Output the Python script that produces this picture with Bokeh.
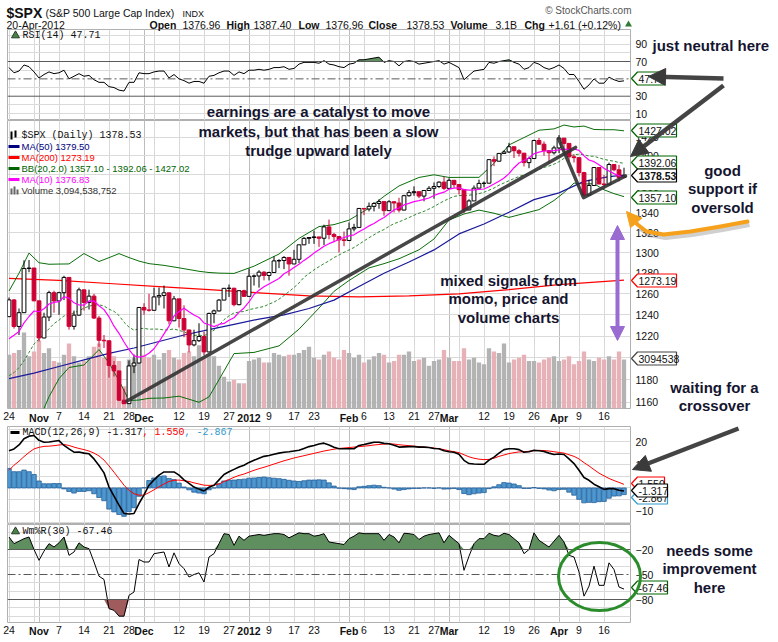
import numpy as np
from bokeh.plotting import figure
from bokeh.models import (Range1d, FixedTicker, Grid, GridBox, Arrow, NormalHead,
                          PrintfTickFormatter, LinearScale, Span)
from bokeh.embed import file_html
from bokeh.resources import INLINE
from bokeh.core.properties import value

# ---------------------------------------------------------------- data
DAYS = list(range(124))  # trading days, 24-Oct-2011 .. 20-Apr-2012
DAY_TICKS = [0, 10, 15, 20, 24, 34, 39, 44, 52, 57, 61, 71, 76, 81, 85, 95, 100, 105, 114, 119]
DAY_LABELS = ["24", "7", "14", "21", "28", "12", "19", "27", "9", "17", "23", "6", "13", "21", "27",
              "12", "19", "26", "9", "16"]
MONTH_TICKS = [6, 27, 48, 68, 88, 110]
MONTH_LABELS = ["Nov", "Dec", "2012", "Feb", "Mar", "Apr"]
WEEK_TICKS = [0, 5, 10, 15, 20, 24, 29, 34, 39, 44, 48, 52, 57, 61, 66, 71, 76, 81, 85, 90, 95,
              100, 105, 110, 114, 119]

OPEN = [1238.25, 1254.19, 1229.05, 1242.00, 1284.59, 1285.09, 1253.30, 1218.28, 1237.90, 1261.15,
        1253.23, 1261.12, 1275.92, 1229.10, 1239.70, 1263.85, 1251.78, 1257.81, 1236.91, 1216.13,
        1215.65, 1192.98, 1188.04, 1161.79, 1158.67, 1192.55, 1195.19, 1246.96, 1244.58, 1244.28,
        1257.08, 1258.47, 1261.01, 1234.35, 1255.19, 1236.47, 1225.73, 1211.82, 1215.75, 1219.66,
        1205.35, 1241.30, 1243.72, 1254.00, 1265.33, 1265.43, 1249.64, 1263.02, 1257.60, 1277.06,
        1277.30, 1281.06, 1277.81, 1280.70, 1292.08, 1292.48, 1295.50, 1289.09, 1293.67, 1308.04,
        1314.50, 1315.38, 1316.00, 1314.65, 1326.06, 1318.43, 1316.33, 1313.01, 1312.41, 1324.09,
        1325.54, 1344.90, 1344.33, 1347.05, 1349.96, 1351.95, 1342.64, 1351.77, 1350.50, 1343.23,
        1358.04, 1361.23, 1362.21, 1357.66, 1363.46, 1365.74, 1367.59, 1372.18, 1365.68, 1374.09,
        1369.63, 1364.33, 1343.36, 1352.63, 1365.91, 1370.87, 1371.09, 1395.95, 1394.28, 1402.60,
        1404.17, 1409.75, 1405.52, 1402.89, 1392.78, 1397.11, 1416.51, 1412.52, 1405.54, 1403.28,
        1408.47, 1419.04, 1413.38, 1398.96, 1398.08, 1382.20, 1358.59, 1368.71, 1387.57, 1370.26,
        1369.57, 1390.78, 1385.14, 1376.96]
HIGH = [1256.5, 1255, 1246, 1292.7, 1293, 1285, 1253, 1242, 1263, 1263,
        1262, 1277.5, 1276, 1244, 1266, 1264, 1264, 1260, 1239, 1221,
        1216, 1197, 1188, 1172, 1197.5, 1203, 1247, 1251, 1260, 1266,
        1266, 1268, 1261, 1258, 1255, 1249, 1226, 1226, 1232, 1224,
        1242, 1245, 1255, 1265.4, 1269, 1265.8, 1263.5, 1264, 1284.6, 1278.7,
        1283, 1282, 1281.5, 1296.5, 1293.8, 1296.8, 1296, 1303, 1308.1, 1315.9,
        1315.4, 1322.3, 1316, 1328.3, 1333.5, 1320, 1316.5, 1321.4, 1330.5, 1329.2,
        1345.3, 1345, 1351, 1351.4, 1354.3, 1352, 1353.4, 1352, 1355.9, 1359,
        1364, 1367.8, 1362.2, 1364, 1368, 1371.9, 1373, 1378, 1376.2, 1374.1,
        1370, 1364.5, 1354.4, 1368.7, 1374.8, 1373, 1396, 1399.4, 1403, 1405.9,
        1414, 1409.8, 1407.2, 1402.9, 1399.2, 1417.3, 1419.2, 1415.5, 1405.5, 1410.9,
        1422.4, 1419, 1413.4, 1401.6, 1398.1, 1383, 1374.7, 1388.1, 1388, 1379.7,
        1392.8, 1390.8, 1390.4, 1387.4]
LOW = [1238, 1227, 1221, 1242, 1281, 1253, 1215, 1218, 1234, 1242,
       1240, 1254, 1226, 1226, 1239, 1244, 1245, 1236, 1210, 1209,
       1182, 1183, 1161, 1158.5, 1158.6, 1186, 1195, 1240, 1243, 1244,
       1249, 1246, 1231, 1234, 1228, 1219, 1205, 1210.5, 1214.5, 1202,
       1205, 1232, 1243, 1254, 1257, 1248, 1249, 1257, 1257.6, 1268,
       1266, 1273, 1273, 1280.7, 1285, 1284, 1277.6, 1289, 1290, 1308,
       1309, 1309, 1306, 1307.7, 1313.6, 1311, 1300.5, 1306.7, 1312.4, 1321.6,
       1325.5, 1338, 1341.9, 1341.9, 1344.6, 1337.4, 1342.6, 1340.8, 1340.8, 1343,
       1357, 1358, 1355.5, 1352.3, 1363, 1354.9, 1365.9, 1363.8, 1365.7, 1366.4,
       1359.3, 1340, 1343, 1352.6, 1365.9, 1366.7, 1371, 1389, 1394.2, 1402.6,
       1403, 1397.7, 1399.2, 1388.7, 1386.9, 1397.1, 1411.9, 1400.1, 1391.6, 1401.4,
       1403, 1406.6, 1394.1, 1392.9, 1378.2, 1357.4, 1358.6, 1368.7, 1369.9, 1365.4,
       1369.5, 1383.6, 1372.9, 1376.96]
CLOSE = [1254.19, 1229.05, 1242.00, 1284.59, 1285.09, 1253.30, 1218.28, 1237.90, 1261.15, 1253.23,
         1261.12, 1275.92, 1229.10, 1239.70, 1263.85, 1251.78, 1257.81, 1236.91, 1216.13, 1215.65,
         1192.98, 1188.04, 1161.79, 1158.67, 1192.55, 1195.19, 1246.96, 1244.58, 1244.28, 1257.08,
         1258.47, 1261.01, 1234.35, 1255.19, 1236.47, 1225.73, 1211.82, 1215.75, 1219.66, 1205.35,
         1241.30, 1243.72, 1254.00, 1265.33, 1265.43, 1249.64, 1263.02, 1257.60, 1277.06, 1277.30,
         1281.06, 1277.81, 1280.70, 1292.08, 1292.48, 1295.50, 1289.09, 1293.67, 1308.04, 1314.50,
         1315.38, 1316.00, 1314.65, 1326.06, 1318.43, 1316.33, 1313.01, 1312.41, 1324.09, 1325.54,
         1344.90, 1344.33, 1347.05, 1349.96, 1351.95, 1342.64, 1351.77, 1350.50, 1343.23, 1358.04,
         1361.23, 1362.21, 1357.66, 1363.46, 1365.74, 1367.59, 1372.18, 1365.68, 1374.09, 1369.63,
         1364.33, 1343.36, 1352.63, 1365.91, 1370.87, 1371.09, 1395.95, 1394.28, 1402.60, 1404.17,
         1409.75, 1405.52, 1402.89, 1392.78, 1397.11, 1416.51, 1412.52, 1405.54, 1403.28, 1408.47,
         1419.04, 1413.38, 1398.96, 1398.08, 1382.20, 1358.59, 1368.71, 1387.57, 1370.26, 1369.57,
         1390.78, 1385.14, 1376.92, 1378.53]
VOLUME_B = [3.4, 3.5, 3.7, 4.8, 3.3, 3.6, 4.3, 3.5, 3.8, 3.0,
            2.9, 3.4, 4.1, 3.3, 2.9, 3.0, 3.3, 3.9, 4.1, 3.2,
            3.6, 3.3, 3.0, 1.4, 3.1, 3.2, 4.3, 3.4, 3.2, 3.4,
            3.1, 3.5, 3.7, 3.2, 3.1, 3.5, 3.6, 3.3, 4.0, 3.2,
            3.4, 3.3, 2.7, 2.0, 1.7, 1.8, 1.6, 1.6, 3.0, 3.1,
            3.2, 2.9, 2.9, 3.5, 3.4, 3.3, 3.4, 3.4, 3.5, 3.7,
            3.9, 3.2, 3.1, 3.4, 3.6, 3.2, 3.1, 3.7, 3.5, 3.2,
            3.4, 2.9, 3.1, 3.3, 3.5, 3.4, 2.9, 3.0, 3.4, 3.4,
            3.6, 3.0, 3.1, 3.2, 2.7, 3.0, 3.1, 3.7, 3.2, 3.0,
            3.0, 3.8, 3.1, 3.2, 2.9, 2.8, 3.8, 3.6, 3.5, 4.1,
            2.9, 3.1, 3.2, 3.4, 3.0, 3.0, 2.9, 3.1, 3.2, 3.3,
            3.0, 3.1, 3.3, 2.8, 3.0, 3.6, 3.1, 3.0, 3.2, 3.1,
            3.3, 3.1, 3.6, 3.09]
MA10 = [1217.5, 1220.8, 1224.3, 1232.4, 1238.4, 1243.6, 1242.9, 1245.7, 1250.3, 1251.8,
        1252.5, 1257.2, 1255.9, 1251.4, 1249.3, 1249.2, 1253.2, 1253.1, 1248.6, 1244.9,
        1238.1, 1229.3, 1222.6, 1214.5, 1207.4, 1201.7, 1200.6, 1201.4, 1204.2, 1208.3,
        1214.8, 1222.1, 1229.3, 1238.9, 1243.2, 1246.3, 1242.8, 1239.9, 1237.5, 1232.3,
        1230.6, 1228.9, 1230.9, 1231.9, 1234.8, 1237.2, 1242.3, 1246.5, 1252.2, 1259.4,
        1263.4, 1266.8, 1269.5, 1272.2, 1274.9, 1279.5, 1282.1, 1285.7, 1288.8, 1292.6,
        1296.0, 1299.8, 1303.2, 1306.6, 1309.2, 1311.2, 1313.6, 1315.4, 1317.0, 1318.1,
        1321.1, 1323.9, 1327.1, 1329.5, 1332.9, 1335.6, 1339.5, 1343.4, 1345.3, 1348.5,
        1350.1, 1351.9, 1353.0, 1354.3, 1355.7, 1358.2, 1360.2, 1361.7, 1364.8, 1366.0,
        1366.3, 1364.4, 1363.9, 1364.2, 1364.7, 1365.0, 1367.4, 1370.2, 1373.1, 1376.5,
        1381.1, 1387.4, 1392.4, 1395.1, 1397.7, 1402.3, 1404.0, 1405.2, 1405.2, 1405.6,
        1406.5, 1407.2, 1406.8, 1407.3, 1405.8, 1400.0, 1395.6, 1393.8, 1390.5, 1386.7,
        1383.9, 1381.1, 1378.9, 1376.8]
BB_MID = [1183.7, 1186.4, 1191.0, 1197.2, 1204.9, 1212.6, 1217.3, 1222.0, 1226.8, 1231.7,
          1235.0, 1239.0, 1240.1, 1241.9, 1243.9, 1246.4, 1248.1, 1249.4, 1249.5, 1248.4,
          1245.3, 1243.3, 1239.3, 1233.0, 1228.4, 1225.5, 1226.9, 1227.3, 1226.4, 1226.6,
          1226.5, 1225.7, 1226.0, 1226.7, 1225.3, 1224.0, 1221.7, 1220.7, 1220.9, 1220.3,
          1222.7, 1225.5, 1230.1, 1235.4, 1239.0, 1241.8, 1242.6, 1243.2, 1244.9, 1245.9,
          1247.0, 1247.9, 1250.2, 1252.1, 1254.9, 1258.4, 1262.2, 1266.1, 1270.5, 1276.0,
          1279.7, 1283.3, 1286.4, 1289.4, 1292.1, 1295.4, 1297.9, 1300.6, 1302.9, 1305.4,
          1308.6, 1311.9, 1315.2, 1318.1, 1321.1, 1323.4, 1326.6, 1329.4, 1331.2, 1333.3,
          1335.6, 1337.9, 1340.1, 1341.9, 1344.3, 1346.9, 1349.9, 1352.6, 1355.1, 1357.3,
          1358.2, 1358.2, 1358.5, 1359.3, 1360.2, 1361.6, 1363.8, 1366.0, 1369.0, 1371.3,
          1373.7, 1375.9, 1378.2, 1379.7, 1381.2, 1383.7, 1385.7, 1387.7, 1389.2, 1391.1,
          1393.8, 1397.3, 1399.6, 1401.2, 1401.8, 1401.2, 1399.8, 1399.5, 1397.9, 1396.2,
          1395.2, 1394.2, 1392.9, 1392.06]
BB_IDX = [0, 2, 4, 6, 8, 10, 12, 15, 18, 20, 22, 24, 26, 28, 31, 34, 38, 40, 42, 45, 49, 54, 58,
          62, 65, 68, 72, 75, 78, 82, 85, 88, 91, 94, 97, 100, 103, 106, 109, 111, 113, 115, 117,
          119, 121, 123]
BB_UPPER = [1262.7, 1280.0, 1299.9, 1290.3, 1288.8, 1289.0, 1289.1, 1299.4, 1291.5, 1295.3,
            1299.3, 1295.4, 1291.9, 1289.4, 1287.7, 1285.3, 1281.9, 1280.7, 1280.1, 1279.8,
            1286.9, 1298.9, 1314.5, 1326.4, 1328.4, 1332.9, 1345.2, 1357.4, 1368.2, 1377.1,
            1379.9, 1377.1, 1377.2, 1377.2, 1392.0, 1411.7, 1419.7, 1427.7, 1429.1, 1433.3,
            1431.2, 1432.2, 1428.5, 1428.2, 1428.2, 1427.02]
BB_LOWER = [1104.7, 1102.0, 1109.9, 1144.3, 1164.8, 1181.0, 1191.1, 1193.4, 1207.5, 1195.3,
            1179.3, 1161.4, 1161.9, 1163.4, 1163.7, 1165.3, 1159.9, 1164.7, 1180.1, 1203.8,
            1204.9, 1210.9, 1226.5, 1246.4, 1262.4, 1272.9, 1285.2, 1289.4, 1294.2, 1303.1,
            1313.9, 1333.1, 1339.2, 1343.2, 1340.0, 1335.7, 1339.7, 1343.7, 1353.1, 1361.3,
            1371.2, 1370.2, 1370.5, 1364.2, 1360.2, 1357.10]
MA50_IDX = [0, 5, 10, 15, 20, 25, 30, 35, 40, 45, 50, 55, 60, 65, 70, 75, 80, 85, 90, 95, 100,
            105, 110, 115, 120, 123]
MA50 = [1181, 1186, 1192, 1198, 1204, 1209, 1215, 1221, 1226, 1231, 1236, 1240, 1246, 1254,
        1267, 1280, 1291, 1303, 1319, 1329, 1341, 1354, 1361, 1373, 1378, 1379.50]
MA200_IDX = [0, 10, 20, 30, 40, 50, 60, 70, 80, 90, 100, 110, 123]
MA200 = [1275, 1273, 1270, 1267, 1264, 1261, 1258, 1257, 1258, 1260, 1264, 1269, 1273.19]

RSI = [63, 57, 59, 66, 64, 58, 51, 55, 58, 56,
       57, 60, 50, 53, 56, 53, 54, 49, 46, 46,
       41, 40, 37, 36, 46, 46, 57, 56, 56, 58,
       59, 59, 51, 55, 50, 48, 45, 47, 47, 45,
       53, 54, 57, 59, 59, 54, 58, 56, 60, 60,
       61, 60, 61, 63, 63, 64, 61, 62, 67, 69,
       69, 69, 68, 71, 67, 66, 64, 63, 67, 68,
       72, 72, 73, 74, 75, 69, 71, 70, 65, 70,
       71, 70, 67, 68, 69, 70, 71, 67, 69, 66,
       63, 49, 54, 59, 60, 61, 69, 68, 70, 71,
       72, 69, 67, 61, 63, 69, 67, 63, 61, 63,
       66, 62, 55, 55, 47, 38, 43, 50, 45, 45,
       52, 49, 47, 47.71]
MACD = [16.0, 16.8, 18.5, 21.2, 22.3, 22.6, 20.5, 19.7, 19.8, 20.1,
        20.4, 18.3, 16.8, 15.4, 15.5, 15.0, 14.7, 12.5, 9.7, 6.5,
        0.4, -3.5, -7.4, -11.0, -11.2, -11.0, -6.7, -3.0, 1.2, 3.5,
        5.5, 6.9, 6.9, 6.9, 5.5, 3.5, 2.0, 0.4, -0.5, -1.3,
        0.3, 1.2, 3.5, 5.8, 7.0, 8.0, 9.0, 9.8, 11.0, 11.9,
        12.8, 13.6, 14.0, 14.5, 15.0, 15.4, 15.6, 15.9, 16.2, 17.0,
        17.8, 18.3, 18.9, 19.3, 18.5, 17.5, 16.9, 16.9, 16.9, 16.9,
        18.3, 18.7, 19.2, 19.7, 19.7, 19.2, 19.0, 18.4, 17.6, 17.7,
        17.8, 17.8, 17.6, 17.6, 17.4, 17.0, 16.9, 16.0, 15.6, 15.4,
        14.5, 11.9, 10.5, 10.3, 10.2, 10.2, 12.0, 13.3, 15.0, 16.5,
        16.9, 16.9, 16.5, 15.4, 15.6, 16.2, 16.0, 15.7, 15.0, 14.4,
        14.6, 14.4, 12.5, 10.5, 7.6, 4.5, 3.3, 1.6, 0.5, -0.6,
        -0.3, -0.3, -1.0, -1.317]
SIGNAL = [7.6, 9.8, 11.5, 13.5, 15.3, 16.8, 17.5, 17.9, 18.0, 18.2,
          18.5, 18.7, 18.3, 17.6, 17.0, 16.5, 15.9, 15.0, 13.8, 12.0,
          9.5, 6.8, 4.0, 1.2, -1.0, -2.5, -3.1, -3.1, -2.0, -0.8,
          0.5, 1.7, 2.8, 3.3, 3.4, 3.1, 2.8, 2.2, 1.7, 1.2,
          1.1, 1.2, 1.7, 2.8, 3.6, 4.6, 5.4, 6.0, 6.8, 7.6,
          8.3, 8.9, 9.6, 10.3, 11.0, 11.7, 12.3, 12.9, 13.4, 13.9,
          14.4, 14.9, 15.4, 15.9, 16.3, 16.7, 17.0, 17.2, 17.4, 17.6,
          17.8, 18.0, 18.2, 18.5, 18.7, 18.9, 19.0, 18.9, 18.6, 18.4,
          18.2, 18.0, 17.8, 17.6, 17.4, 17.2, 16.9, 16.5, 16.0, 15.6,
          15.2, 14.3, 13.4, 12.8, 12.4, 12.2, 12.3, 12.8, 13.6, 14.2,
          14.8, 15.2, 15.5, 15.6, 15.8, 16.0, 16.2, 16.1, 15.9, 15.6,
          15.3, 15.0, 14.3, 13.6, 12.5, 10.9, 9.5, 7.9, 6.4, 5.2,
          4.1, 3.2, 2.4, 1.550]
HIST = [8.4, 7.0, 7.0, 7.7, 7.0, 5.8, 3.0, 1.8, 1.8, 1.9,
        1.9, -0.4, -1.5, -2.2, -1.5, -1.5, -1.2, -2.5, -4.1, -5.5,
        -9.1, -10.3, -11.4, -12.2, -10.2, -8.5, -3.6, 0.1, 3.2, 4.3,
        5.0, 5.2, 4.1, 3.6, 2.1, 0.4, -0.8, -1.8, -2.2, -2.5,
        -0.8, 0.0, 1.8, 3.0, 3.4, 3.4, 3.6, 3.8, 4.2, 4.3,
        4.5, 4.7, 4.4, 4.2, 4.0, 3.7, 3.3, 3.0, 2.8, 3.1,
        3.4, 3.4, 3.5, 3.4, 2.2, 0.8, -0.1, -0.3, -0.5, -0.7,
        0.5, 0.7, 1.0, 1.2, 1.0, 0.3, 0.0, -0.5, -1.0, -0.7,
        -0.4, -0.2, -0.2, 0.0, 0.0, -0.2, 0.0, -0.5, -0.4, -0.2,
        -0.7, -2.4, -2.9, -2.5, -2.2, -2.0, -0.3, 0.5, 1.4, 2.3,
        2.1, 1.7, 1.0, -0.2, -0.2, 0.2, -0.2, -0.4, -0.9, -1.2,
        -0.7, -0.6, -1.8, -3.1, -4.9, -6.4, -6.2, -6.3, -5.9, -5.8,
        -4.4, -3.5, -3.4, -2.867]
WMR = [-5, -13, -10, -7, -5, -20, -33, -22, -13, -17,
       -12, -5, -27, -23, -12, -17, -19, -35, -52, -56,
       -91, -93, -100, -100, -75, -71, -32, -35, -35, -25,
       -24, -23, -41, -24, -37, -43, -53, -50, -48, -59,
       -29, -25, -13, -1, -2, -15, -4, -9, -4, -3,
       -2, -3, -2, -1, -1, -2, -6, -3, 0, -1,
       -1, -4, -3, -1, -11, -12, -13, -14, -7, -4,
       0, -1, -1, -1, -1, -9, -2, -5, -12, -0.5,
       -1, -2, -8, -4, -2, -1, 0, -12, -3, -8,
       -13, -45, -28, -13, -7, -7, -0.5, -3, -4, -0.5,
       -2, -7, -12, -25, -20, 0, -9, -13, -17, -10,
       -3, -11, -27, -29, -47, -76, -64, -40, -63, -63,
       -36, -44, -65, -67.46]

# hand-drawn trend lines, anchored on (day, price)
TREND1_X, TREND1_Y = [23.6, 113.3], [1161, 1409]
TREND2_X, TREND2_Y = [109.9, 114.9, 123.3], [1418.6, 1356, 1378.7]

# ---------------------------------------------------------------- layout
X0, X1 = -0.3, 124.3
FL, FR = 7, 630
SANS = "Liberation Sans"
MONO = "Liberation Mono"
xr = Range1d(X0, X1)


def panel(height, yr, top, bottom, ytype="linear", xaxis=False):
    p = figure(width=778, height=height, x_range=xr, y_range=yr, y_axis_type=ytype,
               x_axis_location="below" if xaxis else None, y_axis_location="right",
               toolbar_location=None, output_backend="svg", title=None,
               min_border_left=FL, min_border_right=778 - FR,
               min_border_top=top, min_border_bottom=bottom)
    p.outline_line_color = "#b0b0b0"
    p.background_fill_color = "white"
    p.border_fill_color = "white"
    p.grid.visible = False
    p.add_layout(Grid(dimension=0, ticker=FixedTicker(ticks=MONTH_TICKS, minor_ticks=WEEK_TICKS),
                      grid_line_color="#bdbdbd", minor_grid_line_color="#d9d9d9"))
    ya = p.yaxis[0]
    ya.axis_line_color = None
    ya.major_tick_line_color = None
    ya.minor_tick_line_color = None
    ya.major_tick_out = 0
    ya.major_tick_in = 0
    ya.minor_tick_out = 0
    ya.minor_tick_in = 0
    ya.major_label_standoff = 5
    ya.major_label_text_font = SANS
    ya.major_label_text_font_size = "10.5px"
    ya.major_label_text_color = "#111111"
    if xaxis:
        xa = p.xaxis[0]
        xa.ticker = FixedTicker(ticks=DAY_TICKS)
        xa.major_label_overrides = {t: s for t, s in zip(DAY_TICKS, DAY_LABELS)}
        xa.axis_line_color = None
        xa.major_tick_line_color = None
        xa.minor_tick_line_color = None
        xa.major_tick_out = 0
        xa.major_tick_in = 0
        xa.minor_tick_out = 0
        xa.major_label_standoff = 3
        xa.major_label_text_font = SANS
        xa.major_label_text_font_size = "10.5px"
        xa.major_label_text_color = "#111111"
    return p


def hgrid(p, ticks):
    p.add_layout(Grid(dimension=1, ticker=FixedTicker(ticks=ticks), grid_line_color="#dadada"))


# ---- RSI
rsi = panel(120, Range1d(2.0, 106.9), 29, 0)
rsi.yaxis[0].ticker = FixedTicker(ticks=[10, 30, 50, 70, 90])
hgrid(rsi, [10, 20, 40, 60, 80, 90, 100])
rsi_arr = np.array(RSI, dtype=float)
rsi.varea(x=DAYS, y1=70, y2=np.maximum(rsi_arr, 70), fill_color="#5f8e5f")
rsi.varea(x=DAYS, y1=30, y2=np.minimum(rsi_arr, 30), fill_color="#a05c5c")
for lv in (70, 30):
    rsi.add_layout(Span(location=lv, dimension="width", line_color="#5a5a5a", line_width=1))
rsi.add_layout(Span(location=50, dimension="width", line_color="#5a5a5a", line_width=1,
                    line_dash="8 3 2 3"))
rsi.line(DAYS, RSI, line_color="black", line_width=1)

# ---- price
price = panel(306, Range1d(1154.4, 1438.3), 0, 18, ytype="log", xaxis=True)
price.yaxis[0].ticker = FixedTicker(ticks=list(range(1160, 1440, 20)))
price.yaxis[0].formatter = PrintfTickFormatter(format="%d")
hgrid(price, list(range(1160, 1440, 20)))
price.extra_y_ranges = {"vol": Range1d(0, 18.2)}
price.extra_y_scales = {"vol": LinearScale()}

o = np.array(OPEN)
c = np.array(CLOSE)
up = c >= o
vol_col = ["#b3b3b3" if u else "#e6b1b7" for u in up]
price.vbar(x=DAYS, top=VOLUME_B, bottom=0, width=0.86, y_range_name="vol",
           fill_color=vol_col, line_color=None)
price.line(MA200_IDX, MA200, line_color="#ff0000", line_width=1.2)
price.line(BB_IDX, BB_UPPER, line_color="#0a6e0a", line_width=1)
price.line(BB_IDX, BB_LOWER, line_color="#0a6e0a", line_width=1)
price.line(DAYS, BB_MID, line_color="#2f8a2f", line_width=1, line_dash="3 2")
price.line(MA50_IDX, MA50, line_color="#1a1a9a", line_width=1.2)
wick_col = ["#000000" if u else "#cc0033" for u in up]
price.segment(x0=DAYS, y0=LOW, x1=DAYS, y1=HIGH, line_color=wick_col, line_width=1)
price.vbar(x=DAYS, top=np.maximum(o, c), bottom=np.minimum(o, c), width=0.76,
           fill_color=["#ffffff" if u else "#cc0033" for u in up],
           line_color=wick_col, line_width=1)
price.line(DAYS, MA10, line_color="#ff00ff", line_width=1.2)
price.line(TREND1_X, TREND1_Y, line_color="#333333", line_width=3.5, line_alpha=0.9,
           line_cap="round")
price.line(TREND2_X, TREND2_Y, line_color="#333333", line_width=3.5, line_alpha=0.9,
           line_cap="round", line_join="round")

# ---- MACD
macd = panel(98, Range1d(-15.73, 26.46), 0, 0)
macd.yaxis[0].ticker = FixedTicker(ticks=[-10, 0, 10, 20])
hgrid(macd, list(range(-15, 26, 5)))
macd.vbar(x=DAYS, top=HIST, bottom=0, width=0.9, fill_color="#4f97cf", line_color="#24609a",
          line_width=0.8)
macd.line(DAYS, SIGNAL, line_color="#ff0000", line_width=1)
macd.line(DAYS, MACD, line_color="black", line_width=1.6)

# ---- Williams %R
wr = panel(118, Range1d(-107.6, 10.0), 0, 20, xaxis=True)
wr.yaxis[0].ticker = FixedTicker(ticks=[-80, -50, -20])
hgrid(wr, [-100, -90, -70, -60, -40, -30, -10, 0])
w = np.array(WMR, dtype=float)
wr.varea(x=DAYS, y1=-20, y2=np.maximum(w, -20), fill_color="#5f8e5f")
wr.varea(x=DAYS, y1=-80, y2=np.minimum(w, -80), fill_color="#a05c5c")
for lv in (-20, -80):
    wr.add_layout(Span(location=lv, dimension="width", line_color="#5a5a5a", line_width=1))
wr.add_layout(Span(location=-50, dimension="width", line_color="#5a5a5a", line_width=1,
                   line_dash="8 3 2 3"))
wr.line(DAYS, WMR, line_color="black", line_width=1)

# ---------------------------------------------------------------- overlay (pixel space)
ov = figure(width=778, height=642, x_range=Range1d(0, 778), y_range=Range1d(642, 0),
            toolbar_location=None, output_backend="svg", title=None,
            x_axis_location=None, y_axis_location=None, min_border=0,
            min_border_left=0, min_border_right=0, min_border_top=0, min_border_bottom=0)
try:
    ov.frame_align = False
except Exception:
    pass
ov.background_fill_color = None
ov.border_fill_color = None
ov.outline_line_color = None
ov.grid.visible = False
dpp = (X1 - X0) / (FR - FL)
ov.extra_x_ranges = {"day": Range1d(X0 - FL * dpp, X0 + (778 - FL) * dpp)}

ov.text(x=MONTH_TICKS, y=[417.5] * 6, text=MONTH_LABELS, x_range_name="day",
        text_font=value(SANS), text_font_size="10.5px", text_font_style="bold",
        text_align="center", text_baseline="middle", text_color="#111111")
ov.text(x=MONTH_TICKS, y=[630.5] * 6, text=MONTH_LABELS, x_range_name="day",
        text_font=value(SANS), text_font_size="10.5px", text_font_style="bold",
        text_align="center", text_baseline="middle", text_color="#111111")


def txt(x, y, s, size="10px", font=SANS, style="normal", color="#111111", align="left"):
    ov.text(x=[x], y=[y], text=[s], text_font=value(font), text_font_size=size,
            text_font_style=style, text_color=color, text_align=align, text_baseline="middle")


# header
txt(6, 12, "$SPX", size="14px", style="bold")
txt(45, 12, "(S&P 500 Large Cap Index)", size="10.5px")
txt(182, 13, "INDX", size="9px")
txt(6, 24, "20-Apr-2012", size="10.5px")
for x, s, b in [(149, "Open", True), (182, "1376.96", False), (226, "High", True),
                (253, "1387.40", False), (298, "Low", True), (325, "1376.96", False),
                (368, "Close", True), (406, "1378.53", False), (450, "Volume", True),
                (495, "3.1B", False), (524, "Chg", True), (548, "+1.61 (+0.12%)", False)]:
    txt(x, 24, s, size="10.5px", style="bold" if b else "normal")
ov.scatter(x=[628], y=[24], marker="triangle", size=7, fill_color="#2e7d32", line_color=None)
txt(631, 10, "\u00a9 StockCharts.com", size="10px", color="#555555", align="right")

# panel legends
ov.scatter(x=[15], y=[35], marker="triangle", size=8, fill_color="#4f7f4f", line_color="#1f3f1f")
txt(22, 35, "RSI(14) 47.71", size="10px", font=MONO)
ov.quad(left=[10, 14], right=[12, 16], top=[131, 130], bottom=[139, 137], fill_color="black",
        line_color=None)
txt(21, 135, "$SPX (Daily) 1378.53", size="10px", font=MONO)
for yy, col, s in [(146, "#000080", "MA(50) 1379.50"), (157, "#ff0000", "MA(200) 1273.19"),
                   (168, "#006400", "BB(20,2.0) 1357.10 - 1392.06 - 1427.02"),
                   (179, "#ff00ff", "MA(10) 1376.83")]:
    ov.segment(x0=[8], y0=[yy], x1=[19], y1=[yy], line_color=col, line_width=3)
    txt(21, yy, s, size="9.5px", color=col)
ov.quad(left=[10, 13, 16], right=[12, 15, 18], top=[188, 186, 189], bottom=[194, 194, 194],
        fill_color="#666666", line_color=None)
txt(21, 190, "Volume 3,094,538,752", size="9.5px", color="#333333")
ov.segment(x0=[10], y0=[432], x1=[19], y1=[432], line_color="black", line_width=3)
txt(22, 432, "MACD(12,26,9) -1.317", size="10px", font=MONO)
txt(142, 432, ", 1.550", size="10px", font=MONO, color="#ff0000")
txt(184, 432, ", -2.867", size="10px", font=MONO, color="#3399cc")
ov.scatter(x=[15], y=[531], marker="triangle", size=8, fill_color="#4f7f4f", line_color="#1f3f1f")
txt(22, 531, "Wm%R(30) -67.46", size="10px", font=MONO)

# value tags on the right edge
TAGS = [("47.71", 78, 33, "#006400", False), ("1427.02", 130, 46, "#006400", False),
        ("1392.06", 162, 46, "#006400", False), ("1357.10", 197, 46, "#006400", False),
        ("1378.53", 175, 46, "#000000", True), ("1273.19", 280, 46, "#ff0000", False),
        ("3094538", 358, 46, "#444444", False), ("1.550", 483, 34, "#ff0000", False),
        ("-2.867", 497, 37, "#3399cc", False), ("-1.317", 490, 37, "#000000", False),
        ("-67.46", 587, 37, "#006400", False)]
for s, yy, wd, col, bold in TAGS:
    xs = [FR + 1, FR + 7, FR + wd, FR + wd, FR + 7]
    ys = [yy, yy - 6.5, yy - 6.5, yy + 6.5, yy + 6.5]
    ov.patch(xs, ys, fill_color="white", line_color=col, line_width=1.2)
    txt(FR + 8, yy + 0.5, s, size="10.5px", style="bold" if bold else "normal")

# commentary
NOTE = "#15152f"
for x, y, s in [(318, 111, "earnings are a catalyst to move"),
                (318, 131, "markets, but that has been a slow"),
                (318, 150, "trudge upward lately"),
                (508, 280, "mixed signals from"), (508, 298, "momo, price and"),
                (508, 317, "volume charts"),
                (722, 170, "good"), (722, 188, "support if"), (722, 207, "oversold"),
                (714, 387, "waiting for a"), (714, 405, "crossover"),
                (709, 550, "needs some"), (709, 568, "improvement"), (709, 587, "here")]:
    txt(x, y, s, size="15px", style="bold", color=NOTE, align="center")
txt(652, 45, "just neutral here", size="15px", style="bold", color=NOTE)

GRAY = "#3a3a3a"
for xs_, ys_, xe, ye in [(723, 78, 648, 76), (723, 85, 630, 156), (738, 428, 632, 469)]:
    ov.add_layout(Arrow(end=NormalHead(size=17, fill_color=GRAY, line_color=GRAY),
                        x_start=xs_, y_start=ys_, x_end=xe, y_end=ye,
                        line_color=GRAY, line_width=4.5, line_alpha=0.95))
# orange curved arrow with soft shadow
cx = [747, 720, 690, 663, 646, 637]
cy = [221, 226, 231, 234, 231, 224]
ov.line([v + 2 for v in cx], [v + 3 for v in cy], line_color="#777777", line_alpha=0.35,
        line_width=5, line_join="round")
ov.line(cx, cy, line_color="#f5a11c", line_width=4, line_join="round", line_cap="round")
ov.add_layout(Arrow(end=NormalHead(size=15, fill_color="#f5a11c", line_color="#f5a11c"),
                    x_start=637, y_start=224, x_end=626, y_end=211,
                    line_color="#f5a11c", line_width=4))
# purple double arrow
PUR = "#9a6bd1"
ov.add_layout(Arrow(start=NormalHead(size=14, fill_color=PUR, line_color=PUR),
                    end=NormalHead(size=14, fill_color=PUR, line_color=PUR),
                    x_start=617, y_start=340, x_end=617, y_end=225,
                    line_color=PUR, line_width=4))
# green ellipse around the latest %R
ov.ellipse(x=[599], y=[576], width=[82], height=[68], fill_color=None,
           line_color="#2a8c2a", line_width=3)

layout = GridBox(children=[(rsi, 0, 0), (price, 1, 0), (macd, 2, 0), (wr, 3, 0), (ov, 0, 0, 4, 1)],
                 spacing=0)
open("out.html", "w").write(file_html(layout, INLINE))
